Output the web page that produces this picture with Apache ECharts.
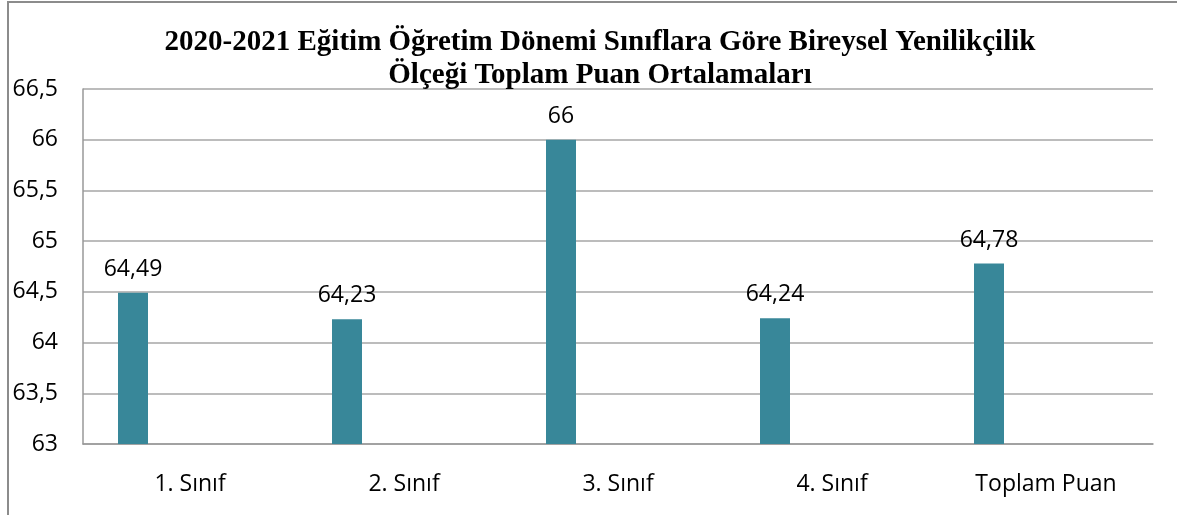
<!DOCTYPE html>
<html>
<head>
    <meta charset="UTF-8">
    <title>Bireysel Yenilikçilik</title>
    <style>
        html, body { margin: 0; padding: 0; width: 100%; height: 100%; background: #fff; }
        #chart { width: 1177px; height: 515px; }
    </style>
    <script src="https://cdn.jsdelivr.net/npm/echarts@6/dist/echarts.min.js"></script>
</head>
<body>
<div id="chart"></div>
<script type="text/javascript">
    var categories = ['1. Sınıf', '2. Sınıf', '3. Sınıf', '4. Sınıf', 'Toplam Puan'];
    var puanlar = [64.49, 64.23, 66, 64.24, 64.78];
    // Excel'deki boş ikinci seri, çubukları sola kaydırıyor
    var bosSeri = ['-', '-', '-', '-', '-'];

    function virgul(v) {
        return String(v).replace('.', ',');
    }

    var myChart = echarts.init(document.getElementById('chart'));
    var labelFont = 'Open Sans';

    var option = {
        animation: false,
        title: {
            text: '2020-2021 Eğitim Öğretim Dönemi Sınıflara Göre Bireysel Yenilikçilik\nÖlçeği Toplam Puan Ortalamaları',
            left: 595,
            top: 21,
            textAlign: 'center',
            textStyle: {
                fontFamily: 'Liberation Serif',
                fontWeight: 'bold',
                fontSize: 29,
                lineHeight: 33,
                color: '#000'
            }
        },
        graphic: [{
            type: 'rect',
            shape: { x: 8, y: 2, width: 1200, height: 600 },
            style: { fill: 'none', stroke: '#8c8c8c', lineWidth: 2 },
            silent: true
        }],
        grid: {
            left: 83,
            right: 24,
            top: 89,
            bottom: 71
        },
        xAxis: {
            type: 'category',
            data: categories,
            axisTick: { show: false },
            axisLine: { lineStyle: { color: '#999', width: 1.5 } },
            axisLabel: {
                margin: 29,
                fontFamily: labelFont,
                fontSize: 23,
                color: '#000'
            }
        },
        yAxis: {
            type: 'value',
            min: 63,
            max: 66.5,
            interval: 0.5,
            axisLine: { show: true, lineStyle: { color: '#999', width: 1.5 } },
            axisTick: { show: false },
            splitLine: { lineStyle: { color: '#a6a6a6', width: 1.5 } },
            axisLabel: {
                margin: 25,
                fontFamily: labelFont,
                fontSize: 23,
                color: '#000',
                formatter: function (v) { return virgul(v); }
            }
        },
        series: [{
            name: 'Ortalama',
            type: 'bar',
            data: puanlar,
            barWidth: 30,
            barGap: '280%',
            itemStyle: { color: '#388799' },
            label: {
                show: true,
                position: 'top',
                distance: 12,
                fontFamily: labelFont,
                fontSize: 23,
                color: '#000',
                formatter: function (p) { return virgul(p.value); }
            }
        }, {
            name: 'Boş',
            type: 'bar',
            data: bosSeri,
            barWidth: 30
        }]
    };
    myChart.setOption(option);
</script>
</body>
</html>
